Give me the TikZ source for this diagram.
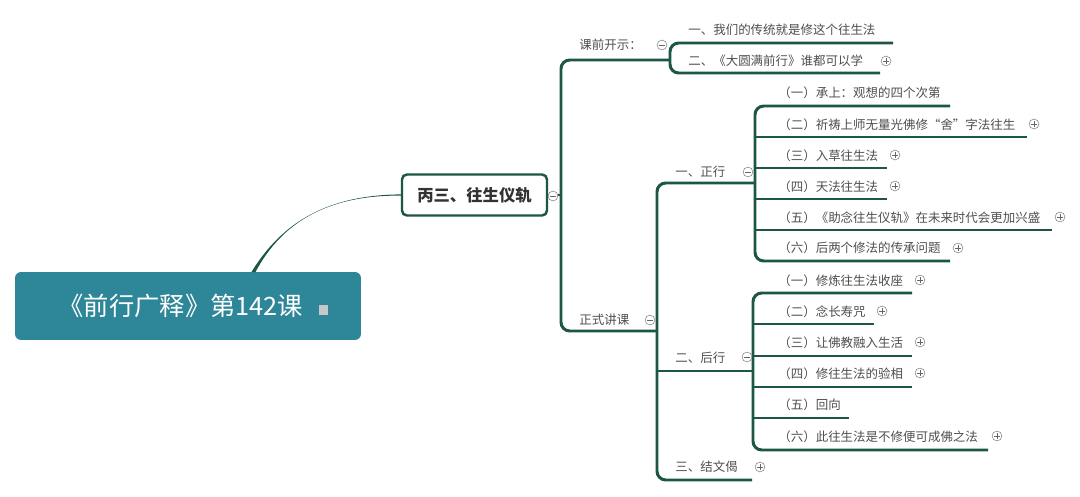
\documentclass[tikz,border=0pt]{standalone}
\usepackage{fontspec}
\setmainfont{Noto Sans CJK SC}
\usetikzlibrary{calc}

\definecolor{rootteal}{RGB}{46,134,153}
\definecolor{branchgreen}{RGB}{27,86,70}
\definecolor{topicgray}{RGB}{78,78,78}

\begin{document}
\begin{tikzpicture}[
  x=0.02cm, y=-0.02cm,
  font=\fontsize{7.1}{8}\selectfont,
  branch/.style={draw=branchgreen, line width=1.7pt},
  topic/.style={anchor=west, inner sep=0pt, text=topicgray},
  fold/.style={circle, draw=black!45, fill=white, line width=0.35pt, inner sep=0pt, minimum size=5.6pt},
  foldminus/.style={fold, path picture={
      \draw[black!60, line width=0.35pt]
        ([xshift=-1.6pt]path picture bounding box.center) -- ([xshift=1.6pt]path picture bounding box.center);}},
  foldplus/.style={fold, path picture={
      \draw[black!60, line width=0.35pt]
        ([xshift=-1.6pt]path picture bounding box.center) -- ([xshift=1.6pt]path picture bounding box.center)
        ([yshift=-1.6pt]path picture bounding box.center) -- ([yshift=1.6pt]path picture bounding box.center);}},
  rootbox/.style={fill=rootteal, rounded corners=3.4pt, text=white, minimum width=6.92cm, minimum height=1.36cm,
      font=\fontsize{14.4}{16}\selectfont},
  mainbox/.style={draw=branchgreen, line width=1.4pt, fill=white, rounded corners=2.8pt, minimum width=2.9cm,
      minimum height=0.82cm, font=\fontsize{9.3}{11}\selectfont\bfseries, text=black!80},
]
  \useasboundingbox (0,0) rectangle (1080,497);

  % ===================== ROOT =====================
  \node[rootbox] (root) at (188,306)
    {\hspace{6pt}《前行广释》第142课\hspace{9pt}\raisebox{0.6pt}{\textcolor{black!22}{\rule{5.2pt}{5.2pt}}}};
  \node[mainbox] (main) at (474.5,195) {丙三、往生仪轨};

  % tapered link root -> main
  \coordinate (rj1) at (251.5,272);
  \coordinate (rj2) at (255.5,272);
  \coordinate (c1) at (282,222);
  \coordinate (c2) at (328,195);
  \coordinate (mw1) at ($(main.west)+(0,-0.6)$);
  \coordinate (mw2) at ($(main.west)+(0,0.6)$);
  \fill[branchgreen] (rj1) .. controls (c1) and (c2) .. (mw1) -- (mw2)
    .. controls (c2) and (c1) .. (rj2) -- cycle;

  % bracket positions
  \coordinate (b0) at (561,0);
  \coordinate (b1) at (670,0);
  \coordinate (b2) at (657,0);
  \coordinate (b3) at (755,0);
  \coordinate (b4) at (753,0);

  % ===================== LEVEL 1 =====================
  \node[topic] (kq) at (579,45) {课前开示：};
  \coordinate (kq-e) at (670,60);
  \node[topic] (zs) at (579,320) {正式讲课};
  \coordinate (zs-e) at (657,331);

  \draw[branch] (main.east) -- (main.east -| b0);
  \draw[branch, rounded corners=5] (kq-e) -- (kq-e -| b0) -- (zs-e -| b0) -- (zs-e);

  % ===================== 课前开示 =====================
  \node[topic] (k1) at (688,30) {一、我们的传统就是修这个往生法};
  \coordinate (k1-e) at (893,43);
  \node[topic] (k2) at (688,61) {二、《大圆满前行》谁都可以学};
  \coordinate (k2-e) at (880,73);

  \draw[branch, rounded corners=5] (k1-e) -- (k1-e -| b1) -- (k2-e -| b1) -- (k2-e);

  % ===================== 正式讲课 =====================
  \node[topic] (zx) at (675,172) {一、正行};
  \coordinate (zx-e) at (755,183);
  \node[topic] (hx) at (675,358) {二、后行};
  \coordinate (hx-e) at (753,371);
  \node[topic] (jw) at (675,467) {三、结文偈};
  \coordinate (jw-e) at (752,480);

  \draw[branch, rounded corners=5] (zx-e) -- (zx-e -| b2) -- (jw-e -| b2) -- (jw-e);
  \draw[branch] (hx-e -| b2) -- (hx-e);

  % ===================== 一、正行 =====================
  \node[topic] (z1) at (778,93) {（一）承上：观想的四个次第};
  \coordinate (z1-e) at (950,106);
  \node[topic] (z2) at (778,125) {（二）祈祷上师无量光佛修“舍”字法往生};
  \coordinate (z2-e) at (1027,137);
  \node[topic] (z3) at (778,156) {（三）入草往生法};
  \coordinate (z3-e) at (887,168);
  \node[topic] (z4) at (778,187) {（四）天法往生法};
  \coordinate (z4-e) at (887,199);
  \node[topic] (z5) at (778,218) {（五）《助念往生仪轨》在未来时代会更加兴盛};
  \coordinate (z5-e) at (1052,230);
  \node[topic] (z6) at (778,248) {（六）后两个修法的传承问题};
  \coordinate (z6-e) at (950,261);

  \draw[branch, rounded corners=5] (z1-e) -- (z1-e -| b3) -- (z6-e -| b3) -- (z6-e);
  \draw[branch] (z2-e -| b3) -- (z2-e);
  \draw[branch] (z3-e -| b3) -- (z3-e);
  \draw[branch] (z4-e -| b3) -- (z4-e);
  \draw[branch] (z5-e -| b3) -- (z5-e);

  % ===================== 二、后行 =====================
  \node[topic] (h1) at (778,281) {（一）修炼往生法收座};
  \coordinate (h1-e) at (912,293);
  \node[topic] (h2) at (778,312) {（二）念长寿咒};
  \coordinate (h2-e) at (874,324);
  \node[topic] (h3) at (778,343) {（三）让佛教融入生活};
  \coordinate (h3-e) at (912,356);
  \node[topic] (h4) at (778,374) {（四）修往生法的验相};
  \coordinate (h4-e) at (912,387);
  \node[topic] (h5) at (778,405) {（五）回向};
  \coordinate (h5-e) at (849,418);
  \node[topic] (h6) at (778,437) {（六）此往生法是不修便可成佛之法};
  \coordinate (h6-e) at (988,450);

  \draw[branch, rounded corners=5] (h1-e) -- (h1-e -| b4) -- (h6-e -| b4) -- (h6-e);
  \draw[branch] (h2-e -| b4) -- (h2-e);
  \draw[branch] (h3-e -| b4) -- (h3-e);
  \draw[branch] (h4-e -| b4) -- (h4-e);
  \draw[branch] (h5-e -| b4) -- (h5-e);

  % fold markers
  \node[foldminus] (f-main) at (553,196) {};
  \node[foldminus] (f-kq) at (662,45) {};
  \node[foldminus] (f-zs) at (650,320) {};
  \node[foldminus] (f-zx) at (748,172) {};
  \node[foldminus] (f-hx) at (747,357) {};
  \node[foldplus] (f-k2) at (886,61) {};
  \node[foldplus] (f-jw) at (760,467) {};
  \node[foldplus] (f-z2) at (1034,124) {};
  \node[foldplus] (f-z3) at (895,155) {};
  \node[foldplus] (f-z4) at (895,186) {};
  \node[foldplus] (f-z5) at (1060,217) {};
  \node[foldplus] (f-z6) at (958,248) {};
  \node[foldplus] (f-h1) at (920,280) {};
  \node[foldplus] (f-h2) at (882,311) {};
  \node[foldplus] (f-h3) at (920,342) {};
  \node[foldplus] (f-h4) at (920,373) {};
  \node[foldplus] (f-h6) at (997,436) {};
\end{tikzpicture}
\end{document}
